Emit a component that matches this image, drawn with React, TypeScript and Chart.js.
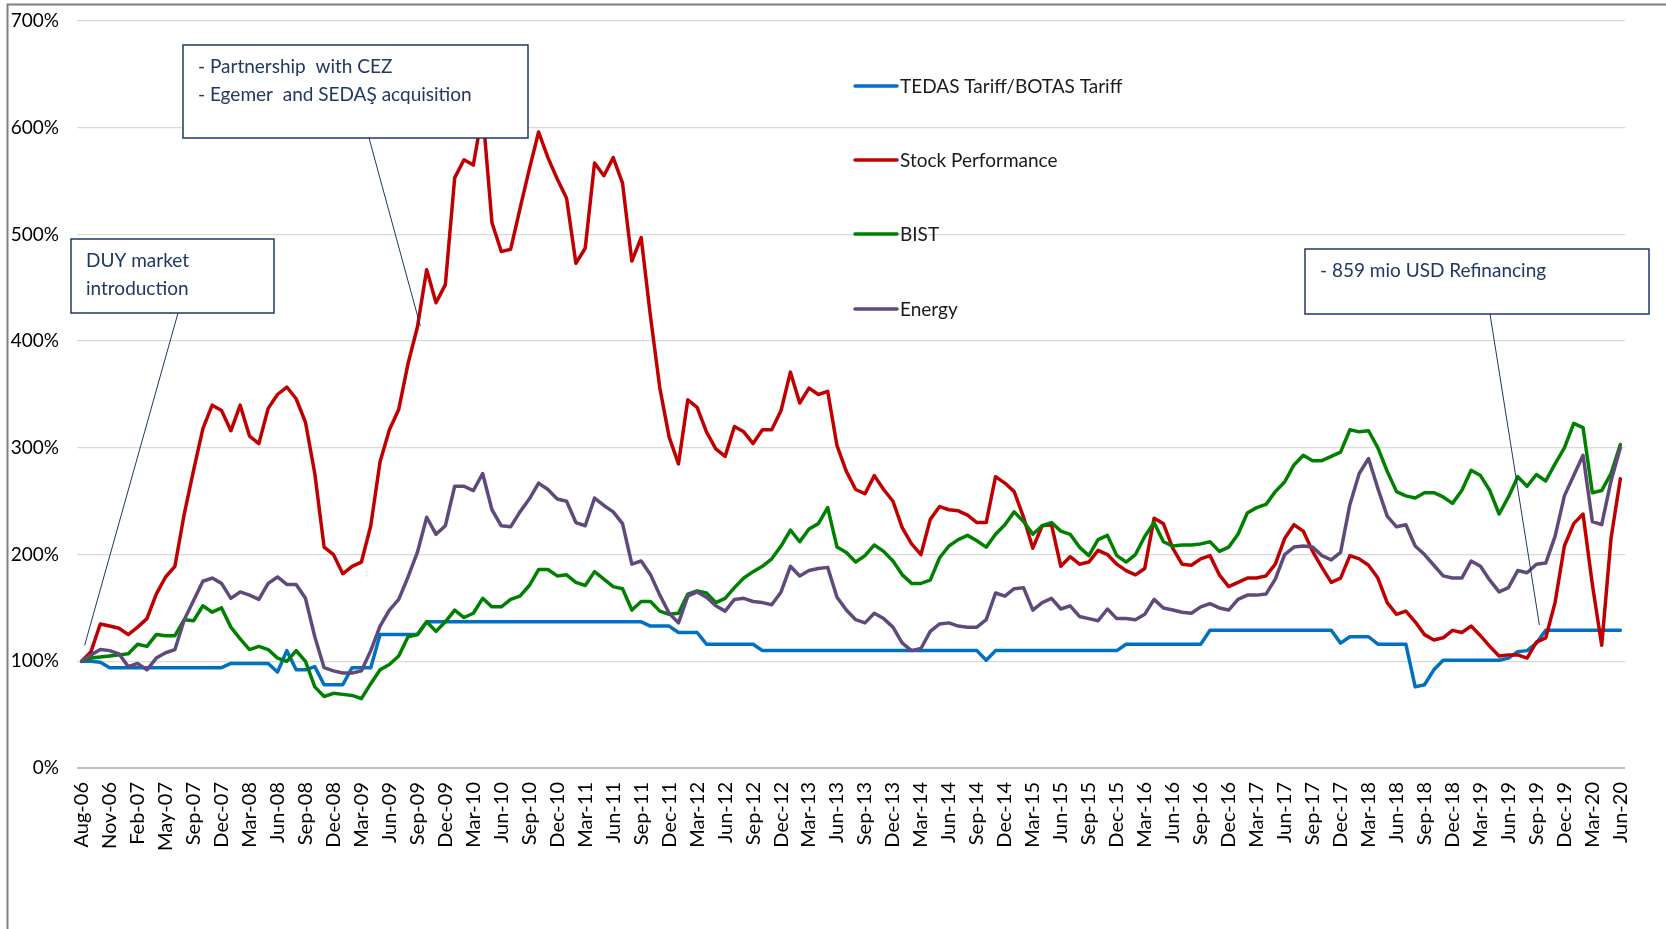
import React, { useEffect, useRef } from 'react';
import { Chart, registerables } from 'chart.js';

Chart.register(...registerables);

// Tick labels: one every third monthly category
const tickLabels = [
  'Aug-06', 'Nov-06', 'Feb-07', 'May-07', 'Sep-07', 'Dec-07', 'Mar-08', 'Jun-08', 'Sep-08', 'Dec-08',
  'Mar-09', 'Jun-09', 'Sep-09', 'Dec-09', 'Mar-10', 'Jun-10', 'Sep-10', 'Dec-10', 'Mar-11', 'Jun-11',
  'Sep-11', 'Dec-11', 'Mar-12', 'Jun-12', 'Sep-12', 'Dec-12', 'Mar-13', 'Jun-13', 'Sep-13', 'Dec-13',
  'Mar-14', 'Jun-14', 'Sep-14', 'Dec-14', 'Mar-15', 'Jun-15', 'Sep-15', 'Dec-15', 'Mar-16', 'Jun-16',
  'Sep-16', 'Dec-16', 'Mar-17', 'Jun-17', 'Sep-17', 'Dec-17', 'Mar-18', 'Jun-18', 'Sep-18', 'Dec-18',
  'Mar-19', 'Jun-19', 'Sep-19', 'Dec-19', 'Mar-20', 'Jun-20',
];

const tariff = [
  100, 100, 99, 94, 94, 94, 94, 94, 94, 94,
  94, 94, 94, 94, 94, 94, 98, 98, 98, 98,
  98, 90, 110, 92, 92, 95, 78, 78, 78, 94,
  94, 94, 125, 125, 125, 125, 125, 137, 137, 137,
  137, 137, 137, 137, 137, 137, 137, 137, 137, 137,
  137, 137, 137, 137, 137, 137, 137, 137, 137, 137,
  137, 133, 133, 133, 127, 127, 127, 116, 116, 116,
  116, 116, 116, 110, 110, 110, 110, 110, 110, 110,
  110, 110, 110, 110, 110, 110, 110, 110, 110, 110,
  110, 110, 110, 110, 110, 110, 110, 101, 110, 110,
  110, 110, 110, 110, 110, 110, 110, 110, 110, 110,
  110, 110, 116, 116, 116, 116, 116, 116, 116, 116,
  116, 129, 129, 129, 129, 129, 129, 129, 129, 129,
  129, 129, 129, 129, 129, 117, 123, 123, 123, 116,
  116, 116, 116, 76, 78, 92, 101, 101, 101, 101,
  101, 101, 101, 103, 109, 110, 117, 129, 129, 129,
  129, 129, 129, 129, 129, 129,
];

const stock = [
  100, 109, 135, 133, 131, 125, 132, 140, 163, 179,
  189, 238, 279, 318, 340, 335, 316, 340, 311, 304,
  337, 350, 357, 346, 324, 276, 207, 200, 182, 189,
  193, 227, 287, 317, 336, 379, 413, 467, 436, 453,
  553, 570, 565, 615, 511, 484, 486, 524, 561, 596,
  572, 552, 534, 473, 487, 567, 555, 572, 548, 475,
  497, 423, 356, 310, 285, 345, 338, 315, 299, 292,
  320, 315, 304, 317, 317, 335, 371, 342, 356, 350,
  353, 302, 278, 261, 257, 274, 261, 250, 225, 210,
  200, 233, 245, 242, 241, 237, 230, 230, 273, 267,
  259, 235, 206, 227, 228, 189, 198, 191, 193, 204,
  200, 191, 185, 181, 187, 234, 229, 206, 191, 190,
  196, 199, 181, 170, 174, 178, 178, 180, 191, 215,
  228, 222, 203, 188, 174, 178, 199, 196, 190, 178,
  155, 144, 147, 137, 125, 120, 122, 129, 127, 133,
  124, 114, 105, 106, 106, 103, 118, 122, 155, 208,
  229, 238, 172, 115, 215, 271,
];

const bist = [
  100, 103, 104, 105, 106, 107, 116, 114, 125, 124,
  124, 139, 138, 152, 146, 150, 132, 121, 111, 114,
  111, 103, 100, 110, 100, 76, 67, 70, 69, 68,
  65, 79, 92, 97, 105, 123, 125, 137, 128, 137,
  148, 141, 145, 159, 151, 151, 158, 161, 171, 186,
  186, 180, 181, 174, 171, 184, 177, 170, 168, 148,
  156, 156, 147, 144, 145, 163, 166, 164, 155, 159,
  169, 178, 184, 189, 196, 208, 223, 212, 224, 229,
  244, 207, 202, 193, 199, 209, 203, 194, 181, 173,
  173, 176, 197, 208, 214, 218, 213, 207, 219, 228,
  240, 231, 219, 227, 230, 222, 219, 207, 199, 214,
  218, 199, 193, 200, 217, 230, 212, 208, 209, 209,
  210, 212, 203, 207, 219, 239, 244, 247, 259, 268,
  284, 293, 288, 288, 292, 296, 317, 315, 316, 300,
  278, 259, 255, 253, 258, 258, 254, 248, 260, 279,
  274, 260, 238, 254, 273, 264, 275, 269, 285, 300,
  323, 319, 258, 260, 276, 303,
];

const energy = [
  100, 106, 111, 110, 107, 95, 98, 92, 103, 108,
  111, 139, 157, 175, 178, 173, 159, 165, 162, 158,
  173, 179, 172, 172, 159, 123, 94, 91, 89, 89,
  91, 110, 133, 148, 158, 179, 202, 235, 219, 227,
  264, 264, 260, 276, 242, 227, 226, 240, 252, 267,
  261, 252, 250, 230, 227, 253, 246, 240, 229, 191,
  194, 181, 162, 145, 136, 161, 165, 160, 152, 147,
  158, 159, 156, 155, 153, 165, 189, 180, 185, 187,
  188, 160, 148, 139, 136, 145, 140, 132, 117, 110,
  112, 128, 135, 136, 133, 132, 132, 139, 164, 161,
  168, 169, 148, 155, 159, 149, 152, 142, 140, 138,
  149, 140, 140, 139, 144, 158, 150, 148, 146, 145,
  151, 154, 150, 148, 158, 162, 162, 163, 177, 200,
  207, 208, 207, 199, 195, 202, 247, 276, 290, 262,
  236, 226, 228, 208, 200, 190, 180, 178, 178, 194,
  189, 176, 165, 169, 185, 183, 191, 192, 217, 255,
  274, 293, 231, 228, 269, 300,
];

const seriesNames = ['TEDAS Tariff/BOTAS Tariff', 'Stock Performance', 'BIST', 'Energy'];
const seriesColors = ['#0070C0', '#C00000', '#008000', '#604A7B'];

const yTicks = [0, 100, 200, 300, 400, 500, 600, 700];

const annotationTexts = [
  ['DUY market', 'introduction'],
  ['- Partnership  with CEZ', '- Egemer  and SEDAŞ acquisition'],
  ['- 859 mio USD Refinancing'],
];
// category index and value each callout points at
const calloutIndex = [0, 36, 156];
const calloutValue = [115, 414, 134];

const categories = tariff.map((_, i) => (i % 3 === 0 ? tickLabels[i / 3] : ''));

const FONT = 'Lato, "Open Sans", sans-serif';

const overlayPlugin = {
  id: 'overlay',
  beforeDraw(chart: any) {
    const ctx = chart.ctx;
    ctx.save();
    ctx.fillStyle = '#ffffff';
    ctx.fillRect(0, 0, chart.width, chart.height);
    ctx.restore();
  },
  afterDatasetsDraw(chart: any) {
    const ctx = chart.ctx;
    const xs = chart.scales.x;
    const ys = chart.scales.y;
    ctx.save();

    // Legend
    const legX = 855;
    const legY = [86, 160, 234, 309];
    ctx.font = `19px ${FONT}`;
    ctx.textBaseline = 'middle';
    ctx.textAlign = 'left';
    seriesNames.forEach((name, i) => {
      ctx.strokeStyle = seriesColors[i];
      ctx.lineWidth = 3.5;
      ctx.lineCap = 'round';
      ctx.beginPath();
      ctx.moveTo(legX, legY[i]);
      ctx.lineTo(legX + 42, legY[i]);
      ctx.stroke();
      ctx.fillStyle = '#1a1a1a';
      ctx.fillText(name, legX + 45, legY[i] + 1);
    });

    // Annotation boxes
    const boxes = [
      { x: 71, y: 239, w: 203, h: 74, tx: 86, ty: [261, 289], from: [178, 313] },
      { x: 183, y: 45, w: 345, h: 93, tx: 198, ty: [67, 95], from: [369, 138] },
      { x: 1305, y: 249, w: 344, h: 65, tx: 1320, ty: [271], from: [1490, 314] },
    ];
    boxes.forEach((b, i) => {
      ctx.fillStyle = '#ffffff';
      ctx.fillRect(b.x, b.y, b.w, b.h);
      ctx.strokeStyle = '#203864';
      ctx.lineWidth = 1.5;
      ctx.strokeRect(b.x, b.y, b.w, b.h);
      ctx.fillStyle = '#1F3864';
      ctx.font = `19px ${FONT}`;
      annotationTexts[i].forEach((t, j) => ctx.fillText(t, b.tx, b.ty[j]));
      // callout line
      ctx.strokeStyle = '#1F3864';
      ctx.lineWidth = 1;
      ctx.lineCap = 'butt';
      ctx.beginPath();
      ctx.moveTo(b.from[0], b.from[1]);
      ctx.lineTo(xs.getPixelForValue(calloutIndex[i]) + 3, ys.getPixelForValue(calloutValue[i]));
      ctx.stroke();
    });
    ctx.restore();
  },
  afterDraw(chart: any) {
    const ctx = chart.ctx;
    ctx.save();
    ctx.strokeStyle = '#808080';
    ctx.lineWidth = 2;
    ctx.beginPath();
    ctx.moveTo(7.5, 929);
    ctx.lineTo(7.5, 4.5);
    ctx.lineTo(1666, 4.5);
    ctx.stroke();
    ctx.restore();
  },
};

export default function App() {
  const canvasRef = useRef<HTMLCanvasElement | null>(null);

  useEffect(() => {
    const canvas = canvasRef.current;
    if (!canvas) return;
    const data = [tariff, stock, bist, energy];
    const chart = new Chart(canvas, {
      type: 'line',
      data: {
        labels: categories,
        datasets: data.map((d, i) => ({
          label: seriesNames[i],
          data: d,
          borderColor: seriesColors[i],
          backgroundColor: seriesColors[i],
          borderWidth: 3.5,
          pointRadius: 0,
          tension: 0,
          fill: false,
          order: 4 - i,
          borderJoinStyle: 'round' as const,
          borderCapStyle: 'round' as const,
        })),
      },
      options: {
        responsive: false,
        animation: false,
        devicePixelRatio: 1,
        layout: { padding: { top: 21, right: 41, left: 0, bottom: 0 } },
        plugins: {
          legend: { display: false },
          tooltip: { enabled: false },
        },
        scales: {
          x: {
            type: 'category',
            offset: true,
            grid: { display: false, drawTicks: false },
            border: { display: false },
            ticks: {
              autoSkip: false,
              minRotation: 90,
              maxRotation: 90,
              padding: 14,
              color: '#000000',
              font: { family: FONT, size: 20 },
            },
            afterFit: (s: any) => {
              s.height = 161;
            },
          },
          y: {
            min: yTicks[0],
            max: yTicks[yTicks.length - 1],
            grid: {
              drawTicks: false,
              color: (c: any) => (c.tick && c.tick.value === 0 ? '#bfbfbf' : '#d9d9d9'),
              lineWidth: (c: any) => (c.tick && c.tick.value === 0 ? 2 : 1.3),
            },
            border: { display: false },
            afterBuildTicks: (s: any) => {
              s.ticks = yTicks.map((v) => ({ value: v }));
            },
            ticks: {
              padding: 18,
              color: '#000000',
              font: { family: FONT, size: 19 },
              callback: (v: any) => `${v}%`,
            },
            afterFit: (s: any) => {
              s.width = 77;
              s.paddingTop = 0;
              s.paddingBottom = 0;
            },
          },
        },
      },
      plugins: [overlayPlugin],
    });
    return () => chart.destroy();
  }, []);

  return (
    <div style={{ position: 'absolute', left: 0, top: 0, width: 1666, height: 929 }}>
      <canvas ref={canvasRef} width={1666} height={929} style={{ display: 'block' }} />
    </div>
  );
}
